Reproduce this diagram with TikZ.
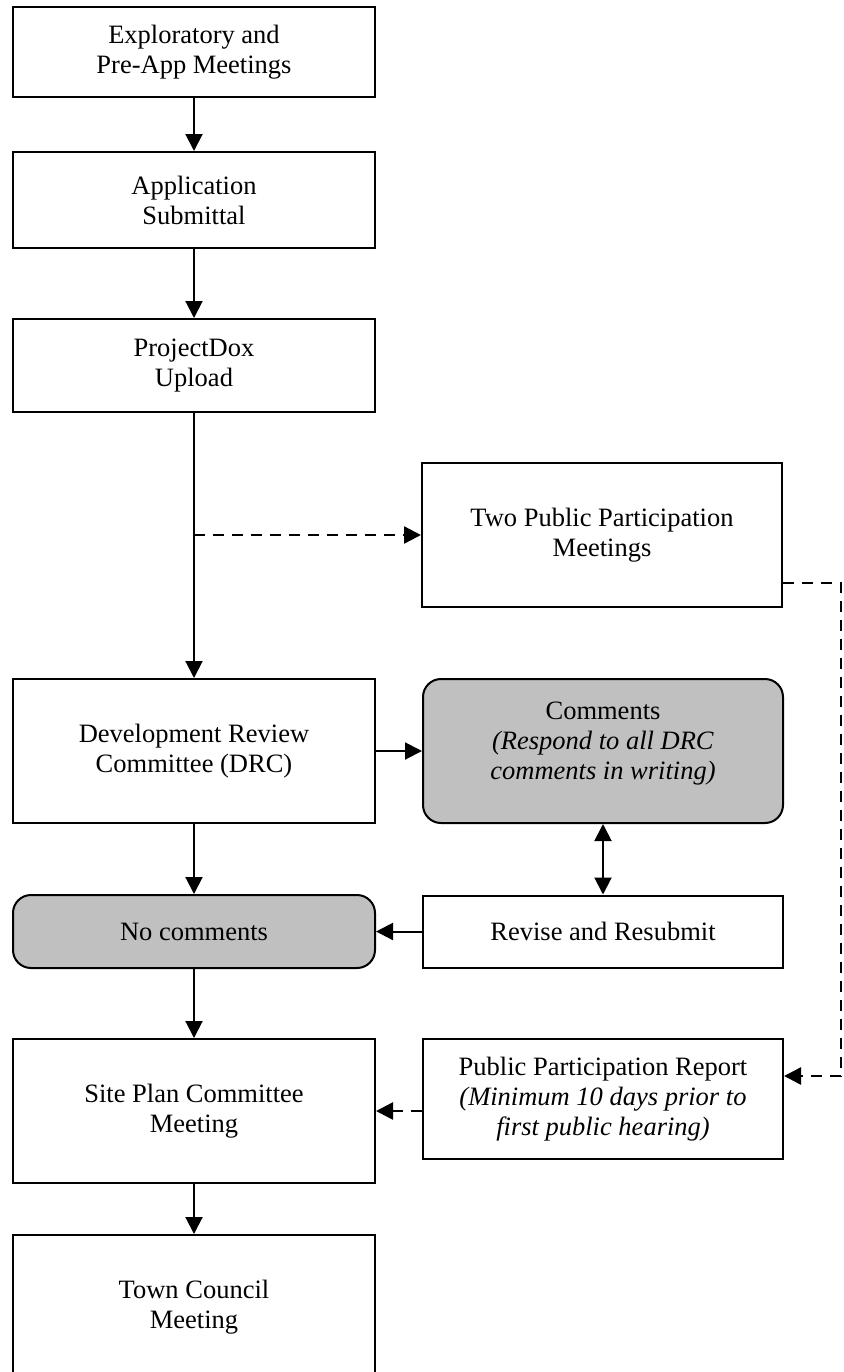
\documentclass[tikz,border=0pt]{standalone}
\usepackage{fontspec}
\setmainfont{Liberation Serif}
\usepackage{tikz}
\usetikzlibrary{arrows.meta,shapes,positioning}

\definecolor{boxgray}{RGB}{192,192,192}

\tikzset{
    stepbox/.style={draw=black, line width=1pt, minimum width=181pt, align=center, inner sep=2pt},
    graybox/.style={stepbox, fill=boxgray, rounded corners=9pt},
    flow/.style={line width=1pt, -{Triangle[length=8.5pt,width=8.5pt]}},
    dashflow/.style={flow, line width=1.2pt, dash pattern=on 5.5pt off 4pt}
}

\begin{document}
\begin{tikzpicture}[x=0.5pt, y=-0.5pt, every node/.style={font=\fontsize{13.25}{15}\selectfont}]
    \useasboundingbox (0,0) rectangle (843,1372);

    % left column
    \node[stepbox, minimum height=45pt] (expl) at (194,52) {Exploratory and\\Pre-App Meetings};
    \node[stepbox, minimum height=48pt] (submit) at (194,200) {Application\\Submittal};
    \node[stepbox, minimum height=46.5pt] (pdox) at (194,365.5) {ProjectDox\\Upload};
    \node[stepbox, minimum height=72pt] (drc) at (194,751) {Development Review\\Committee (DRC)};
    \node[graybox, minimum height=36.5pt] (nocomm) at (194,931.5) {No comments};
    \node[stepbox, minimum height=72pt] (site) at (194,1111) {Site Plan Committee\\Meeting};
    \node[stepbox, minimum height=72pt] (council) at (194,1307) {Town Council\\Meeting};

    % right column
    \node[stepbox, minimum width=180pt, minimum height=72pt] (meet) at (602,535) {Two Public Participation\\Meetings};
    \node[graybox, minimum width=180pt, minimum height=72pt] (comm) at (603,751) {Comments\\\textit{(Respond to all DRC}\\\textit{comments in writing)}\\[-5pt]};
    \node[stepbox, minimum width=180pt, minimum height=36pt] (revise) at (603,931.5) {Revise and Resubmit};
    \node[stepbox, minimum width=180pt, minimum height=60pt] (report) at (603,1099) {Public Participation Report\\\textit{(Minimum 10 days prior to}\\\textit{first public hearing)}};

    % main flow
    \draw[flow] (expl) -- (submit);
    \draw[flow] (submit) -- (pdox);
    \draw[flow] (pdox) -- (drc);
    \draw[flow] (drc) -- (comm);
    \draw[flow] (drc) -- (nocomm);
    \draw[flow] (nocomm) -- (site);
    \draw[flow] (site) -- (council);
    \draw[flow] (revise) -- (nocomm);
    \draw[flow, {Triangle[length=8.5pt,width=8.5pt]}-{Triangle[length=8.5pt,width=8.5pt]}] (comm) -- (revise);

    % public participation
    \draw[dashflow] (pdox.south |- meet.west) -- (meet.west);
    \draw[dashflow] ([yshift=-24pt]meet.east) -- ++(29pt,0) |- ([yshift=11.5pt]report.east);
    \draw[dashflow] (report.west |- site.east) -- (site.east);
\end{tikzpicture}
\end{document}
